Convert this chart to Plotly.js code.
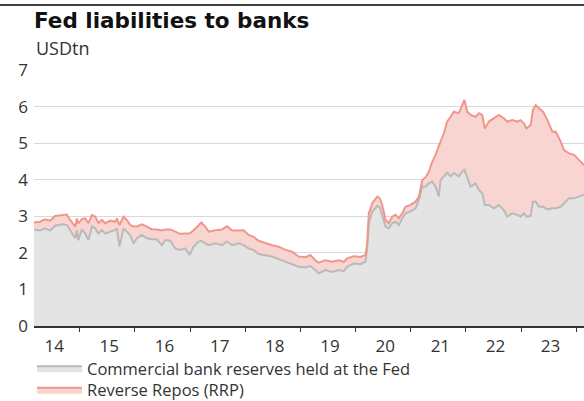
<!DOCTYPE html>
<html>
<head>
<meta charset="utf-8">
<script src="https://cdn.plot.ly/plotly-3.0.1.min.js"></script>
<style>
html,body{margin:0;padding:0;background:#fff;}
#chart{width:584px;height:401px;}
</style>
</head>
<body>
<div id="chart"></div>
<script>
var dates = ["2014-03-04","2014-04-13","2014-05-17","2014-06-19","2014-07-22","2014-09-05","2014-10-08","2014-10-23","2014-11-10","2014-12-02","2014-12-13","2014-12-22",
"2015-01-15","2015-02-06","2015-02-28","2015-03-22","2015-04-13","2015-05-05","2015-05-28","2015-06-19","2015-07-22","2015-08-24","2015-09-04","2015-09-21","2015-10-18","2015-11-09","2015-12-01","2015-12-23",
"2016-01-15","2016-02-17","2016-03-21","2016-04-23","2016-05-26","2016-06-28","2016-07-20","2016-08-22","2016-09-24","2016-10-27","2016-11-29","2016-12-28",
"2017-01-24","2017-02-26","2017-03-16","2017-04-11","2017-05-04","2017-06-17","2017-07-31","2017-09-02","2017-10-05","2017-11-18","2017-12-21",
"2018-01-23","2018-02-25","2018-03-30","2018-05-14","2018-06-28","2018-08-10","2018-09-24","2018-11-07","2018-12-21",
"2019-02-04","2019-03-08","2019-04-10","2019-05-02","2019-06-16","2019-07-30","2019-09-12","2019-10-15","2019-11-06","2019-12-20",
"2020-02-03","2020-03-07","2020-03-18","2020-03-29","2020-04-21","2020-05-24","2020-06-10","2020-06-26","2020-07-18","2020-08-08","2020-08-31","2020-09-22","2020-10-14","2020-11-05","2020-11-27","2020-12-30",
"2021-02-02","2021-02-24","2021-03-18","2021-04-09","2021-05-01","2021-05-23","2021-06-14","2021-07-06","2021-07-17","2021-08-08","2021-08-30","2021-09-21","2021-10-13","2021-11-15","2021-12-07","2021-12-22",
"2022-01-10","2022-02-01","2022-03-06","2022-03-28","2022-04-19","2022-05-06","2022-06-02","2022-07-05","2022-08-07","2022-09-09","2022-10-02","2022-11-04","2022-12-07","2022-12-29",
"2023-01-20","2023-02-05","2023-03-06","2023-03-21","2023-04-08","2023-04-30","2023-05-27","2023-06-25","2023-07-28","2023-08-19","2023-09-21","2023-10-13","2023-11-15","2023-12-18",
"2024-01-20","2024-02-22"];

// Commercial bank reserves held at the Fed (USD tn)
var reserves = [2.64,2.61,2.67,2.61,2.74,2.78,2.76,2.67,2.53,2.40,2.62,2.35,
2.64,2.53,2.35,2.72,2.67,2.53,2.62,2.53,2.58,2.62,2.67,2.17,2.67,2.58,2.49,2.26,
2.40,2.49,2.40,2.37,2.37,2.21,2.35,2.33,2.12,2.08,2.12,1.94,
2.17,2.31,2.33,2.26,2.21,2.26,2.21,2.31,2.21,2.26,2.21,
2.12,2.08,1.97,1.94,1.90,1.83,1.76,1.71,1.62,
1.60,1.64,1.53,1.44,1.53,1.48,1.53,1.50,1.62,1.71,
1.69,1.76,2.08,2.81,3.13,3.28,3.25,3.04,2.72,2.67,2.81,2.85,2.76,2.94,3.08,3.13,
3.22,3.45,3.81,3.81,3.90,3.95,3.81,3.54,3.99,4.09,4.19,4.09,4.18,4.09,4.22,4.27,
4.08,3.81,3.90,3.72,3.63,3.31,3.31,3.22,3.31,3.17,2.99,3.08,3.04,2.99,
3.08,2.99,3.01,3.40,3.40,3.26,3.26,3.19,3.22,3.22,3.26,3.35,3.49,3.49,
3.54,3.59];

// Reserves plus Reverse Repos (RRP), top of stacked area (USD tn)
var total = [2.83,2.85,2.92,2.88,3.01,3.04,3.05,2.94,2.85,2.72,2.94,2.80,
2.92,2.94,2.81,3.03,2.99,2.82,2.90,2.81,2.88,2.85,2.94,2.76,2.99,2.90,2.76,2.72,
2.72,2.78,2.72,2.64,2.64,2.61,2.64,2.64,2.58,2.52,2.53,2.53,
2.62,2.76,2.83,2.72,2.58,2.62,2.64,2.73,2.62,2.61,2.62,
2.49,2.44,2.33,2.26,2.21,2.17,2.08,2.03,1.90,
1.88,1.94,1.80,1.73,1.80,1.76,1.80,1.75,1.85,1.91,
1.89,1.94,2.26,3.08,3.36,3.54,3.49,3.31,2.90,2.81,2.99,3.04,2.95,3.08,3.26,3.31,
3.40,3.54,3.99,4.07,4.22,4.49,4.68,4.95,5.04,5.27,5.59,5.72,5.86,5.82,6.04,6.18,
5.86,5.77,5.72,5.82,5.77,5.40,5.59,5.68,5.77,5.68,5.59,5.63,5.59,5.63,
5.54,5.40,5.50,5.91,6.04,5.95,5.86,5.63,5.31,5.31,5.04,4.81,4.72,4.68,
4.54,4.40];

var seriesNames = ["Commercial bank reserves held at the Fed", "Reverse Repos (RRP)"];
var yTicks = [0,1,2,3,4,5,6,7];

var font = "'Open Sans', 'Noto Sans', sans-serif";

var traces = [
  {x: dates, y: reserves, type: "scatter", mode: "lines", name: seriesNames[0],
   fill: "tozeroy", fillcolor: "#e4e4e4", legend: "legend",
   line: {color: "#bababa", width: 2}, hoverinfo: "skip"},
  {x: dates, y: total, type: "scatter", mode: "lines", name: seriesNames[1],
   fill: "tonexty", fillcolor: "#f8d5d1", legend: "legend2",
   line: {color: "#ef978b", width: 2}, hoverinfo: "skip"}
];

var legendBase = {x: -2/550, xanchor: "left", yanchor: "middle", orientation: "v",
  itemwidth: 45, font: {size: 16.5, color: "#333"}, bgcolor: "rgba(0,0,0,0)"};

var layout = {
  width: 584, height: 401,
  margin: {l: 34, r: 0, t: 70, b: 75, autoexpand: false},
  paper_bgcolor: "#fff", plot_bgcolor: "#fff",
  font: {family: font, color: "#333", size: 17},
  showlegend: true,
  title: {text: "Fed liabilities to banks", x: 34/584, xanchor: "left", xref: "container",
          y: 1 - 20/401, yanchor: "middle", yref: "container",
          font: {family: "'DejaVu Sans', sans-serif", size: 21.5, weight: 700, color: "#111"}},
  xaxis: {type: "date", range: ["2014-03-04", "2024-02-22"],
          tick0: "2014-01-01", dtick: "M12", tickformat: "%y", ticklabelmode: "period",
          ticks: "outside", ticklen: 4, tickwidth: 1, tickcolor: "#333",
          showline: true, linecolor: "#333", linewidth: 1.5, ticklabelshift: 2,
          showgrid: false, zeroline: false, fixedrange: true, tickangle: 0,
          tickfont: {size: 17, color: "#333"}},
  yaxis: {range: [0, 7], tickvals: yTicks, ticks: "", showline: false,
          gridcolor: "#d9d9d9", gridwidth: 1, zeroline: false, fixedrange: true,
          tickfont: {size: 17, color: "#333"}, ticklabelstandoff: 5},
  legend: Object.assign({}, legendBase, {y: (326 - 368.5) / 256}),
  legend2: Object.assign({}, legendBase, {y: (326 - 390) / 256}),
  annotations: [
    {text: "USDtn", xref: "paper", yref: "paper", x: 0, y: 1 + 22/256,
     xanchor: "left", yanchor: "middle", showarrow: false,
     font: {size: 18, color: "#333"}}
  ],
  shapes: [
    {type: "line", xref: "paper", yref: "paper", x0: -34/550, x1: 1, y0: 1 + 65/256, y1: 1 + 65/256,
     line: {color: "#000", width: 1.5}}
  ]
};

Plotly.newPlot("chart", traces, layout, {displayModeBar: false, staticPlot: true});
</script>
</body>
</html>
